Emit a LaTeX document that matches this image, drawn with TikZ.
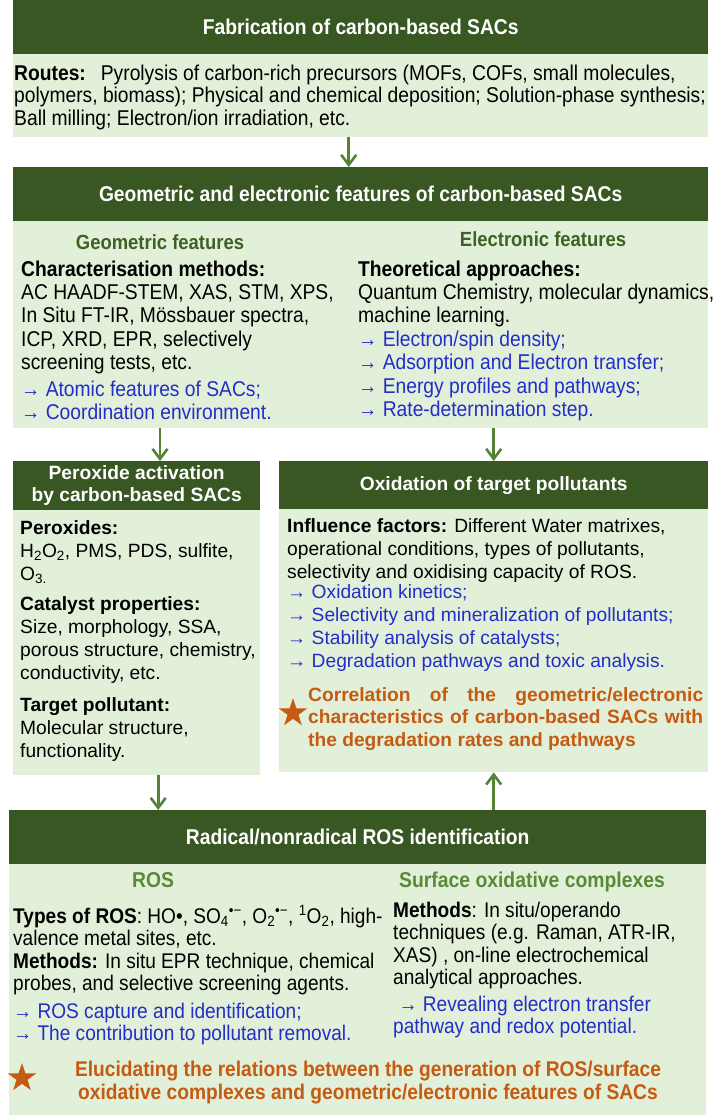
\documentclass[tikz,border=0pt]{standalone}
\usepackage{fontspec}
\setmainfont{Liberation Sans}
\newfontfamily\narrowsf[FakeStretch=0.9]{Liberation Sans}
\usetikzlibrary{arrows.meta,positioning,shapes.geometric}

\begin{document}
\begin{tikzpicture}[x=1pt, y=-1pt, >={Straight Barb[length=10pt,width=15pt]}]
    % Colours of the scheme
    \definecolor{darkgreen}{RGB}{56, 87, 35}
    \definecolor{lightgreen}{RGB}{226, 240, 217}
    \definecolor{arrowgreen}{RGB}{84, 130, 53}
    \definecolor{subgreen}{RGB}{61, 98, 36}
    \definecolor{rosgreen}{RGB}{88, 138, 56}
    \definecolor{textblue}{RGB}{35, 45, 200}
    \definecolor{textorange}{RGB}{197, 90, 17}

    \tikzset{
        head/.style={fill=darkgreen, text=white, anchor=north west, inner sep=0pt, align=center},
        panel/.style={fill=lightgreen, anchor=north west, inner sep=0pt},
        txt/.style={anchor=north west, inner sep=0pt, align=left},
        subtitle/.style={anchor=base, inner sep=0pt},
        flow/.style={->, arrowgreen, line width=2.6pt},
        staricon/.style={star, star points=5, star point ratio=2.6, fill=textorange, inner sep=0pt, minimum size=30pt},
    }

    \useasboundingbox[fill=white] (0,0) rectangle (715,1117);

    % Fabrication
    \node[head, minimum width=695pt, minimum height=54pt, font=\narrowsf\bfseries\fontsize{21.4}{24}\selectfont] (fabhead) at (13,0) {Fabrication of carbon-based SACs};
    \node[panel, minimum width=695pt, minimum height=83pt] (fabbody) at (13,54) {};
    \node[txt, font=\narrowsf\fontsize{21.4}{22.5}\selectfont] (fabtext) at (14,64.25)
        {\strut\textbf{Routes:}\hspace{0.7em}Pyrolysis of carbon-rich precursors (MOFs, COFs, small molecules,\\
         polymers, biomass); Physical and chemical deposition; Solution-phase synthesis;\\
         Ball milling; Electron/ion irradiation, etc.};

    % Geometric and electronic features
    \node[head, minimum width=695pt, minimum height=54pt, font=\narrowsf\bfseries\fontsize{21.4}{24}\selectfont] (feathead) at (13,167) {Geometric and electronic features of carbon-based SACs};
    \node[panel, minimum width=695pt, minimum height=207pt] (featbody) at (13,221) {};
    \node[subtitle, text=subgreen, font=\narrowsf\bfseries\fontsize{20.5}{23}\selectfont] (geotitle) at (160,249) {Geometric features};
    \node[subtitle, text=subgreen, font=\narrowsf\bfseries\fontsize{20.5}{23}\selectfont] (eletitle) at (543,246) {Electronic features};
    \node[txt, font=\narrowsf\fontsize{21.4}{23.4}\selectfont] (geotext) at (21,259.6)
        {\strut\textbf{Characterisation methods:}\\
         AC HAADF-STEM, XAS, STM, XPS,\\
         In Situ FT-IR, Mössbauer spectra,\\
         ICP, XRD, EPR, selectively\\
         screening tests, etc.\\[3pt]
         \textcolor{textblue}{→ Atomic features of SACs;}\\
         \textcolor{textblue}{→ Coordination environment.}};
    \node[txt, font=\narrowsf\fontsize{21.4}{23.4}\selectfont] (eletext) at (358,259.6)
        {\strut\textbf{Theoretical approaches:}\\
         Quantum Chemistry, molecular dynamics,\\
         machine learning.\\
         \textcolor{textblue}{→ Electron/spin density;}\\
         \textcolor{textblue}{→ Adsorption and Electron transfer;}\\
         \textcolor{textblue}{→ Energy profiles and pathways;}\\
         \textcolor{textblue}{→ Rate-determination step.}};

    % Peroxide activation
    \node[head, minimum width=247pt, minimum height=49pt, font=\bfseries\fontsize{19.2}{22}\selectfont] (perhead) at (13,461) {Peroxide activation\\by carbon-based SACs};
    \node[panel, minimum width=247pt, minimum height=265pt] (perbody) at (13,510) {};
    \node[txt, font=\fontsize{19.2}{23}\selectfont] (pertext) at (20,517.9)
        {\strut\textbf{Peroxides:}\\
         H\textsubscript{2}O\textsubscript{2}, PMS, PDS, sulfite,\\
         O\textsubscript{3.}\\[7pt]
         \textbf{Catalyst properties:}\\
         Size, morphology, SSA,\\
         porous structure, chemistry,\\
         conductivity, etc.\\[9pt]
         \textbf{Target pollutant:}\\
         Molecular structure,\\
         functionality.};

    % Oxidation of target pollutants
    \node[head, minimum width=429pt, minimum height=48pt, font=\bfseries\fontsize{19.2}{22}\selectfont] (oxihead) at (279,461) {Oxidation of target pollutants};
    \node[panel, minimum width=429pt, minimum height=263pt] (oxibody) at (279,509) {};
    \node[txt, font=\fontsize{19.2}{23}\selectfont] (oxitext) at (287,515.9)
        {\strut\textbf{Influence factors:} Different Water matrixes,\\
         operational conditions, types of pollutants,\\
         selectivity and oxidising capacity of ROS.\\[-3pt]
         \textcolor{textblue}{→ Oxidation kinetics;}\\
         \textcolor{textblue}{→ Selectivity and mineralization of pollutants;}\\
         \textcolor{textblue}{→ Stability analysis of catalysts;}\\
         \textcolor{textblue}{→ Degradation pathways and toxic analysis.}};
    \node[txt, text width=395pt, align=justify, text=textorange,
          font=\bfseries\fontsize{19.2}{22.5}\selectfont] (oxicorr) at (308,685.25)
        {\strut Correlation of the geometric/electronic\linebreak
         characteristics of carbon-based SACs with\linebreak
         the degradation rates and pathways};
    \node[staricon] (oxistar) at (293,713) {};

    % Radical/nonradical ROS identification
    \node[head, minimum width=697pt, minimum height=54pt, font=\narrowsf\bfseries\fontsize{21.4}{24}\selectfont] (roshead) at (9,810) {Radical/nonradical ROS identification};
    \node[panel, minimum width=697pt, minimum height=251pt] (rosbody) at (9,864) {};
    \node[subtitle, text=rosgreen, font=\narrowsf\bfseries\fontsize{21.5}{23}\selectfont] (rostitle) at (153,887) {ROS};
    \node[subtitle, text=rosgreen, font=\narrowsf\bfseries\fontsize{21.5}{23}\selectfont] (surftitle) at (532,887) {Surface oxidative complexes};
    \node[txt, font=\narrowsf\fontsize{21.2}{22.5}\selectfont] (rostext) at (13,905.25)
        {\strut\textbf{Types of ROS}: HO•, SO\textsubscript{4}\textsuperscript{•−}, O\textsubscript{2}\textsuperscript{•−}, \textsuperscript{1}O\textsubscript{2}, high-\\
         valence metal sites, etc.\\
         \textbf{Methods:} In situ EPR technique, chemical\\
         probes, and selective screening agents.\\[5pt]
         \textcolor{textblue}{→ ROS capture and identification;}\\
         \textcolor{textblue}{→ The contribution to pollutant removal.}};
    \node[txt, font=\narrowsf\fontsize{21.2}{22.5}\selectfont] (surftext) at (393,901.25)
        {\strut\textbf{Methods}: In situ/operando\\
         techniques (e.g. Raman, ATR-IR,\\
         XAS) , on-line electrochemical\\
         analytical approaches.\\[4pt]
         \textcolor{textblue}{\ → Revealing electron transfer}\\
         \textcolor{textblue}{pathway and redox potential.}};
    \node[anchor=north, inner sep=0pt, align=center, text=textorange,
          font=\narrowsf\bfseries\fontsize{21.3}{23}\selectfont] (roscorr) at (368,1059.9)
        {\strut Elucidating the relations between the generation of ROS/surface\\
         oxidative complexes and geometric/electronic features of SACs};
    \node[staricon] (rosstar) at (22,1078) {};

    % Arrows between the stages
    \draw[flow] ([xshift=-12pt]fabbody.south) -- ([xshift=-12pt]feathead.north);
    \draw[flow] (featbody.south -| geotitle) -- (perhead.north -| geotitle);
    \draw[flow] (featbody.south -| oxihead) -- (oxihead.north);
    \draw[flow] ([xshift=21.5pt]perbody.south) -- ([xshift=21.5pt]perbody.south |- roshead.north);
    \draw[flow] (roshead.north -| oxibody.south) -- (oxibody.south);

\end{tikzpicture}
\end{document}
